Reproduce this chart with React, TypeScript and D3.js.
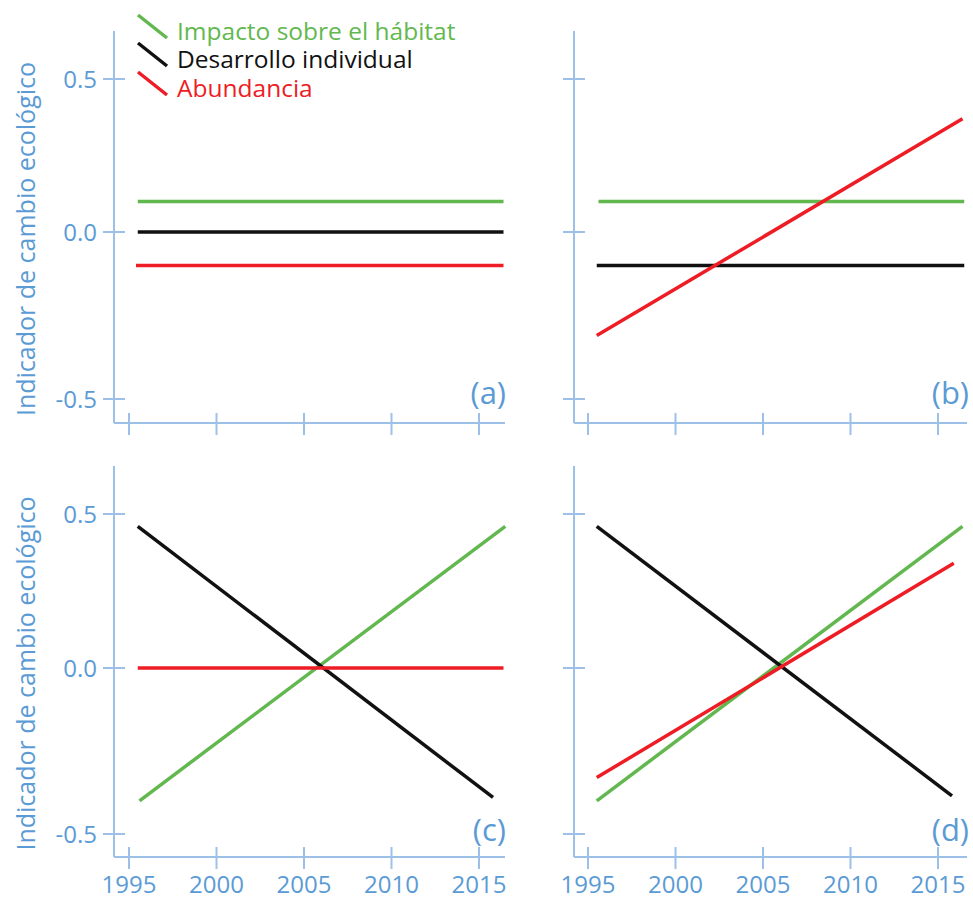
import * as d3 from "d3";

// series order: habitat, desarrollo, abundancia
const seriesNames = ["Impacto sobre el hábitat", "Desarrollo individual", "Abundancia"];
const seriesColors = ["#62b84f", "#111111", "#ee1c25"];

const years = [1995, 2000, 2005, 2010, 2015];
const yTicks = [-0.5, 0, 0.5];
const yTickLabels = ["-0.5", "0.0", "0.5"];
const panelLabels = ["(a)", "(b)", "(c)", "(d)"];

// [year, value] endpoints of each straight line
const panelA = [
  [[1995.5, 0.1], [2016.4, 0.1]],
  [[1995.5, 0.0], [2016.4, 0.0]],
  [[1995.4, -0.1], [2016.4, -0.1]],
];
const panelB = [
  [[1995.6, 0.1], [2016.5, 0.1]],
  [[1995.5, -0.1], [2016.5, -0.1]],
  [[1995.5, -0.31], [2016.4, 0.37]],
];
const panelC = [
  [[1995.6, -0.4], [2016.5, 0.46]],
  [[1995.5, 0.46], [2015.8, -0.39]],
  [[1995.5, 0.0], [2016.4, 0.0]],
];
const panelD = [
  [[1995.5, -0.4], [2016.4, 0.46]],
  [[1995.5, 0.46], [2015.8, -0.385]],
  [[1995.5, -0.33], [2015.9, 0.34]],
];
const panelData = [panelA, panelB, panelC, panelD];

const W = 973;
const H = 900;
const axisColor = "#9dc0e8";
const textColor = "#5b9bd5";
const font = "'Open Sans', sans-serif";

// layout of the 2x2 grid
const cols = [
  { axisX: 114, x1995: 129, x2015: 479, right: 505 },
  { axisX: 574, x1995: 588, x2015: 938, right: 967 },
];
const rows = [
  { top: 31, bottom: 423, yNeg: 399, yZero: 232, yPos: 79 },
  { top: 466, bottom: 857, yNeg: 834, yZero: 668, yPos: 514 },
];

function Panel({ idx }: { idx: number }) {
  const c = cols[idx % 2];
  const r = rows[Math.floor(idx / 2)];
  const x = d3.scaleLinear().domain([1995, 2015]).range([c.x1995, c.x2015]);
  const y = d3.scaleLinear().domain([-0.5, 0, 0.5]).range([r.yNeg, r.yZero, r.yPos]);
  const line = d3
    .line<number[]>()
    .x((d) => x(d[0]))
    .y((d) => y(d[1]));
  const isLeft = idx % 2 === 0;
  const isBottom = idx >= 2;

  return (
    <g>
      {/* axes */}
      <line x1={c.axisX} x2={c.axisX} y1={r.top} y2={r.bottom} stroke={axisColor} strokeWidth={2} />
      <line x1={c.axisX} x2={c.right} y1={r.bottom} y2={r.bottom} stroke={axisColor} strokeWidth={2} />
      {yTicks.map((t, i) => (
        <g key={"y" + t}>
          <line x1={c.axisX - 11} x2={c.axisX + 11} y1={y(t)} y2={y(t)} stroke={axisColor} strokeWidth={2} />
          {isLeft && (
            <text
              x={c.axisX - 17}
              y={y(t)}
              dy="0.36em"
              textAnchor="end"
              fontSize={24}
              fontFamily={font}
              fill={textColor}
            >
              {yTickLabels[i]}
            </text>
          )}
        </g>
      ))}
      {years.map((yr) => (
        <g key={"x" + yr}>
          <line x1={x(yr)} x2={x(yr)} y1={r.bottom - 10} y2={r.bottom + 12} stroke={axisColor} strokeWidth={2} />
          {isBottom && (
            <text x={x(yr)} y={893} textAnchor="middle" fontSize={24} fontFamily={font} fill={textColor}>
              {yr}
            </text>
          )}
        </g>
      ))}
      {isLeft && (
        <text
          transform={`translate(35,${(r.top + r.bottom) / 2 + 12}) rotate(-90)`}
          textAnchor="middle"
          fontSize={25}
          fontFamily={font}
          fill={textColor}
        >
          Indicador de cambio ecológico
        </text>
      )}
      {/* data lines */}
      {panelData[idx].map((pts, si) => (
        <path key={si} d={line(pts) ?? ""} fill="none" stroke={seriesColors[si]} strokeWidth={3.5} />
      ))}
      <text
        x={isLeft ? 506 : 969}
        y={isBottom ? 841 : 404}
        textAnchor="end"
        fontSize={31}
        fontFamily={font}
        fill={textColor}
      >
        {panelLabels[idx]}
      </text>
    </g>
  );
}

function Legend() {
  const baselines = [40, 68, 97];
  return (
    <g>
      {seriesNames.map((name, i) => (
        <g key={name}>
          <line
            x1={138}
            y1={baselines[i] - 25}
            x2={167}
            y2={baselines[i] - 2}
            stroke={seriesColors[i]}
            strokeWidth={3.5}
          />
          <text x={177} y={baselines[i]} fontSize={24.5} fontFamily={font} fill={i === 1 ? "#111" : seriesColors[i]}>
            {name}
          </text>
        </g>
      ))}
    </g>
  );
}

export default function App() {
  return (
    <svg
      width={W}
      height={H}
      viewBox={`0 0 ${W} ${H}`}
      style={{ position: "absolute", left: 0, top: 0, background: "#fff" }}
    >
      <rect width={W} height={H} fill="#fff" />
      {[0, 1, 2, 3].map((i) => (
        <Panel key={i} idx={i} />
      ))}
      <Legend />
    </svg>
  );
}
